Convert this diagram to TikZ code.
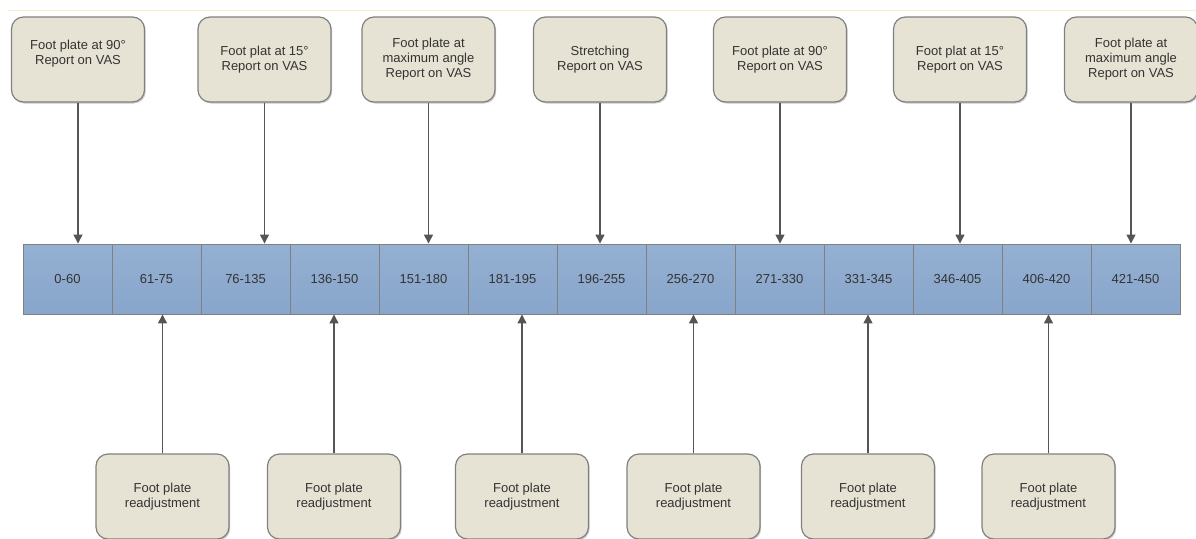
\documentclass[tikz,border=0pt]{standalone}
\usepackage{fontspec}
\setmainfont{Liberation Sans}
\usetikzlibrary{arrows.meta,shadows}
\definecolor{boxfill}{HTML}{E7E3D4}
\definecolor{boxline}{HTML}{808080}
\definecolor{celltop}{HTML}{94B0D2}
\definecolor{cellbot}{HTML}{88A5CB}
\definecolor{txt}{HTML}{333333}
\definecolor{arr}{HTML}{555555}
\definecolor{topline}{HTML}{F9EDCB}
\tikzset{
  note/.style={draw=boxline, line width=1.2pt, fill=boxfill, rounded corners=12pt,
    minimum width=133pt, minimum height=85pt, inner sep=0pt, align=center,
    text=txt, font=\fontsize{13}{15}\selectfont,
    drop shadow={shadow xshift=1.2pt, shadow yshift=-1.5pt, opacity=0.35, fill=black!60}},
  cell/.style={draw=boxline, line width=0.9pt, top color=celltop, bottom color=cellbot,
    minimum width=89pt, minimum height=70pt, inner sep=0pt, text=txt,
    font=\fontsize{13}{15}\selectfont},
  conn/.style={draw=arr, line width=1.3pt, -{Triangle[length=9pt,width=9pt]}}
}
\begin{document}
\begin{tikzpicture}[x=1pt,y=-1pt]
\useasboundingbox (0,0) rectangle (1196,538);
\clip (0,0) rectangle (1196,538);
\draw[topline, line width=1pt] (8,10) -- (1196,10);
% timeline
\foreach \lab [count=\i] in {0-60,61-75,76-135,136-150,151-180,181-195,196-255,256-270,271-330,331-345,346-405,406-420,421-450}{
  \node[cell] (c\i) at ({23+89*(\i-0.5)},279) {\lab};
}
% top notes
\node[note] (t1) at (78,59.5) {Foot plate at 90°\\Report on VAS\\\mbox{}};
\node[note] (t2) at (264.5,59.5) {Foot plat at 15°\\Report on VAS};
\node[note] (t3) at (428.5,59.5) {Foot plate at\\maximum angle\\Report on VAS};
\node[note] (t4) at (600,59.5) {Stretching\\Report on VAS};
\node[note] (t5) at (780,59.5) {Foot plate at 90°\\Report on VAS};
\node[note] (t6) at (960,59.5) {Foot plat at 15°\\Report on VAS};
\node[note] (t7) at (1131,59.5) {Foot plate at\\maximum angle\\Report on VAS};
% bottom notes
\node[note] (b1) at (162.5,496.5) {Foot plate\\readjustment};
\node[note] (b2) at (334,496.5) {Foot plate\\readjustment};
\node[note] (b3) at (522,496.5) {Foot plate\\readjustment};
\node[note] (b4) at (693.5,496.5) {Foot plate\\readjustment};
\node[note] (b5) at (868,496.5) {Foot plate\\readjustment};
\node[note] (b6) at (1048.5,496.5) {Foot plate\\readjustment};
% connectors
\draw[conn] (t1.south) -- (t1.south |- c1.north);
\draw[conn] (t2.south) -- (t2.south |- c3.north);
\draw[conn] (t3.south) -- (t3.south |- c5.north);
\draw[conn] (t4.south) -- (t4.south |- c7.north);
\draw[conn] (t5.south) -- (t5.south |- c9.north);
\draw[conn] (t6.south) -- (t6.south |- c11.north);
\draw[conn] (t7.south) -- (t7.south |- c13.north);
\draw[conn] (b1.north) -- (b1.north |- c2.south);
\draw[conn] (b2.north) -- (b2.north |- c4.south);
\draw[conn] (b3.north) -- (b3.north |- c6.south);
\draw[conn] (b4.north) -- (b4.north |- c8.south);
\draw[conn] (b5.north) -- (b5.north |- c10.south);
\draw[conn] (b6.north) -- (b6.north |- c12.south);
\end{tikzpicture}
\end{document}
